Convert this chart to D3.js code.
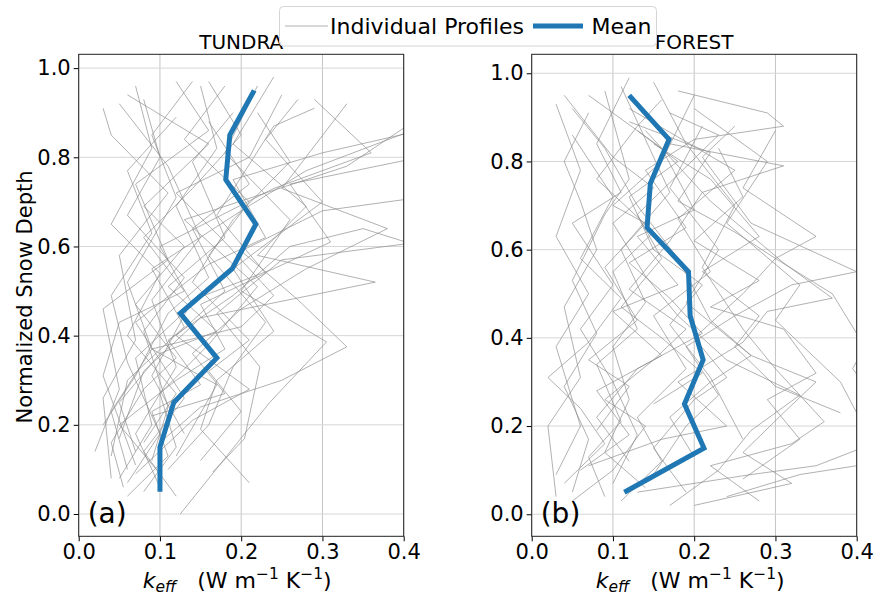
<!DOCTYPE html>
<html>
<head>
<meta charset="utf-8">
<script src="https://cdn.jsdelivr.net/npm/d3@7"></script>
<style>
  body { margin: 0; background: #fff; }
  svg { font-family: "DejaVu Sans", sans-serif; }
  .tick text { font-size: 21px; fill: #000; }
  .tick line { stroke: #000; }
</style>
</head>
<body>
<svg id="chart" width="875" height="597"></svg>
<script>
// mean profiles (normalized depth bins)
const meanDepth = [0.05, 0.15, 0.25, 0.35, 0.45, 0.55, 0.65, 0.75, 0.85, 0.95];
const tundraMean = [0.100, 0.100, 0.117, 0.170, 0.125, 0.189, 0.218, 0.181, 0.186, 0.216];
const forestMean = [0.114, 0.212, 0.188, 0.211, 0.195, 0.193, 0.142, 0.146, 0.169, 0.120];

const xTicks = [0.0, 0.1, 0.2, 0.3, 0.4];
const yTicks = [0.0, 0.2, 0.4, 0.6, 0.8, 1.0];

// individual profiles, [k_eff, normalized depth]
const tundraProfiles = [
  [[0.10,0.06],[0.07,0.18],[0.12,0.33],[0.09,0.48],[0.15,0.62],[0.11,0.78],[0.05,0.92]],
  [[0.125,0.00],[0.235,0.25],[0.305,0.386],[0.20,0.50],[0.26,0.66],[0.18,0.81],[0.22,0.96]],
  [[0.165,0.094],[0.204,0.169],[0.223,0.33],[0.17,0.45],[0.25,0.57],[0.42,0.61]],
  [[0.02,0.14],[0.05,0.28],[0.03,0.46],[0.11,0.57],[0.07,0.74],[0.16,0.86],[0.12,0.97]],
  [[0.04,0.13],[0.06,0.30],[0.13,0.42],[0.09,0.55],[0.20,0.68],[0.28,0.77],[0.41,0.86]],
  [[0.08,0.05],[0.12,0.15],[0.10,0.27],[0.16,0.38],[0.22,0.51],[0.13,0.66],[0.33,0.78],[0.42,0.89]],
  [[0.05,0.08],[0.09,0.20],[0.07,0.35],[0.14,0.47],[0.10,0.60],[0.24,0.73],[0.36,0.81],[0.29,0.93]],
  [[0.06,0.10],[0.04,0.23],[0.09,0.37],[0.06,0.52],[0.12,0.71],[0.09,0.85],[0.14,0.97]],
  [[0.21,0.07],[0.15,0.19],[0.17,0.30],[0.24,0.41],[0.19,0.55],[0.30,0.70],[0.23,0.84],[0.27,0.93]],
  [[0.07,0.09],[0.14,0.21],[0.21,0.28],[0.12,0.40],[0.18,0.50],[0.14,0.64],[0.21,0.74],[0.16,0.88]],
  [[0.05,0.17],[0.08,0.32],[0.15,0.44],[0.365,0.52],[0.22,0.58],[0.28,0.69],[0.19,0.83],[0.24,0.98]],
  [[0.09,0.12],[0.11,0.24],[0.08,0.41],[0.13,0.53],[0.06,0.67],[0.10,0.80],[0.08,0.93]],
  [[0.04,0.08],[0.03,0.26],[0.07,0.39],[0.05,0.58],[0.11,0.72],[0.04,0.85],[0.03,0.91]],
  [[0.10,0.16],[0.15,0.24],[0.25,0.30],[0.33,0.375],[0.27,0.48],[0.20,0.59],[0.30,0.68],[0.42,0.71]],
  [[0.06,0.07],[0.10,0.18],[0.06,0.34],[0.04,0.49],[0.09,0.63],[0.06,0.77],[0.12,0.89]],
  [[0.12,0.04],[0.08,0.14],[0.13,0.26],[0.07,0.43],[0.16,0.56],[0.23,0.62],[0.19,0.75],[0.30,0.81],[0.42,0.86]],
  [[0.03,0.20],[0.07,0.31],[0.11,0.45],[0.16,0.53],[0.12,0.69],[0.17,0.82],[0.15,0.96]],
  [[0.09,0.22],[0.18,0.27],[0.14,0.36],[0.20,0.46],[0.28,0.55],[0.38,0.64],[0.25,0.73],[0.33,0.92]],
  [[0.07,0.14],[0.05,0.25],[0.10,0.36],[0.17,0.41],[0.11,0.51],[0.18,0.62],[0.14,0.79],[0.19,0.90]],
  [[0.11,0.10],[0.16,0.20],[0.19,0.33],[0.23,0.43],[0.16,0.58],[0.21,0.70],[0.13,0.84],[0.18,0.96]],
  [[0.055,0.06],[0.04,0.16],[0.08,0.28],[0.12,0.35],[0.07,0.47],[0.13,0.60],[0.08,0.69],[0.16,0.83],[0.06,0.94]],
  [[0.13,0.18],[0.09,0.31],[0.14,0.48],[0.24,0.55],[0.31,0.61],[0.26,0.74],[0.42,0.80]],
  [[0.08,0.16],[0.12,0.27],[0.06,0.40],[0.10,0.54],[0.04,0.65],[0.09,0.82],[0.07,0.96]],
  [[0.15,0.12],[0.20,0.23],[0.16,0.32],[0.21,0.39],[0.14,0.52],[0.19,0.66],[0.26,0.79],[0.22,0.90]],
  [[0.10,0.09],[0.05,0.20],[0.12,0.30],[0.18,0.37],[0.15,0.47],[0.23,0.54],[0.17,0.67],[0.24,0.87],[0.29,0.91]],
  [[0.06,0.04],[0.11,0.13],[0.09,0.23],[0.15,0.29],[0.11,0.39],[0.19,0.49],[0.26,0.60],[0.35,0.64],[0.42,0.60]],
  [[0.07,0.11],[0.03,0.31],[0.05,0.43],[0.13,0.50],[0.08,0.62],[0.14,0.73],[0.20,0.85],[0.16,0.97]],
  [[0.12,0.13],[0.17,0.29],[0.09,0.37],[0.20,0.42],[0.24,0.49],[0.18,0.61],[0.12,0.72],[0.21,0.80],[0.25,0.94]]
];

const forestProfiles = [
  [[0.03,0.04],[0.02,0.20],[0.06,0.31],[0.04,0.47],[0.08,0.60],[0.06,0.71],[0.04,0.80],[0.07,0.91]],
  [[0.05,0.05],[0.07,0.17],[0.04,0.29],[0.08,0.41],[0.05,0.53],[0.09,0.68],[0.12,0.76],[0.09,0.96]],
  [[0.11,0.03],[0.16,0.12],[0.13,0.22],[0.19,0.33],[0.15,0.45],[0.22,0.55],[0.18,0.67],[0.25,0.78],[0.12,0.92]],
  [[0.14,0.06],[0.09,0.14],[0.12,0.26],[0.10,0.38],[0.14,0.48],[0.11,0.60],[0.17,0.73],[0.14,0.85],[0.11,0.97]],
  [[0.28,0.03],[0.22,0.11],[0.32,0.16],[0.36,0.21],[0.30,0.33],[0.26,0.42],[0.21,0.56],[0.25,0.70],[0.19,0.84],[0.15,0.98]],
  [[0.06,0.10],[0.12,0.18],[0.08,0.28],[0.16,0.36],[0.10,0.46],[0.18,0.52],[0.13,0.63],[0.20,0.69],[0.16,0.83],[0.07,0.95]],
  [[0.13,0.05],[0.27,0.09],[0.35,0.11],[0.42,0.16],[0.38,0.30],[0.30,0.44],[0.33,0.52],[0.24,0.66],[0.29,0.80],[0.20,0.92]],
  [[0.04,0.07],[0.09,0.16],[0.06,0.24],[0.02,0.31],[0.07,0.39],[0.11,0.49],[0.06,0.58],[0.10,0.72],[0.05,0.86]],
  [[0.20,0.02],[0.32,0.07],[0.26,0.14],[0.31,0.23],[0.35,0.30],[0.27,0.36],[0.19,0.48],[0.23,0.60],[0.17,0.74],[0.21,0.88]],
  [[0.09,0.04],[0.07,0.13],[0.11,0.21],[0.08,0.34],[0.13,0.42],[0.10,0.55],[0.15,0.64],[0.08,0.76],[0.13,0.88],[0.16,0.94]],
  [[0.07,0.11],[0.16,0.17],[0.24,0.20],[0.18,0.30],[0.26,0.39],[0.29,0.46],[0.37,0.49],[0.31,0.57],[0.22,0.71],[0.14,0.87]],
  [[0.15,0.09],[0.19,0.20],[0.23,0.27],[0.19,0.38],[0.25,0.45],[0.32,0.52],[0.40,0.55],[0.27,0.66],[0.21,0.81],[0.25,0.88]],
  [[0.05,0.03],[0.10,0.10],[0.14,0.20],[0.09,0.26],[0.15,0.35],[0.19,0.42],[0.12,0.51],[0.17,0.62],[0.21,0.73],[0.31,0.79],[0.17,0.84]],
  [[0.12,0.12],[0.08,0.22],[0.13,0.33],[0.21,0.41],[0.17,0.49],[0.12,0.57],[0.19,0.65],[0.14,0.78],[0.20,0.85],[0.31,0.88],[0.29,0.91],[0.18,0.96]],
  [[0.19,0.05],[0.15,0.15],[0.20,0.26],[0.24,0.31],[0.20,0.40],[0.26,0.50],[0.30,0.58],[0.25,0.64],[0.18,0.71],[0.22,0.82],[0.12,0.89]],
  [[0.26,0.08],[0.33,0.17],[0.29,0.26],[0.35,0.32],[0.31,0.42],[0.22,0.47],[0.28,0.53],[0.20,0.62],[0.26,0.72],[0.23,0.83]],
  [[0.03,0.09],[0.06,0.20],[0.03,0.38],[0.07,0.50],[0.03,0.63],[0.06,0.78],[0.03,0.93]],
  [[0.10,0.07],[0.13,0.18],[0.10,0.30],[0.06,0.42],[0.10,0.52],[0.05,0.66],[0.11,0.73],[0.08,0.84],[0.12,0.99]],
  [[0.17,0.02],[0.23,0.10],[0.27,0.19],[0.33,0.27],[0.24,0.35],[0.18,0.45],[0.14,0.54],[0.10,0.66],[0.15,0.74],[0.10,0.81],[0.04,0.95]],
  [[0.24,0.04],[0.33,0.09],[0.40,0.11],[0.43,0.18],[0.42,0.27],[0.395,0.33],[0.41,0.38],[0.37,0.50],[0.30,0.58],[0.35,0.63],[0.26,0.74],[0.30,0.87]],
  [[0.15,0.25],[0.21,0.32],[0.16,0.40],[0.11,0.47],[0.16,0.58],[0.13,0.68],[0.18,0.77],[0.23,0.86],[0.17,0.91]],
  [[0.08,0.19],[0.12,0.29],[0.07,0.35],[0.13,0.44],[0.09,0.56],[0.14,0.66],[0.10,0.70],[0.16,0.80],[0.20,0.95]],
  [[0.20,0.13],[0.17,0.22],[0.22,0.30],[0.27,0.36],[0.22,0.44],[0.18,0.58],[0.13,0.70],[0.09,0.83],[0.05,0.92]],
  [[0.26,0.17],[0.22,0.31],[0.17,0.43],[0.21,0.52],[0.15,0.60],[0.12,0.72],[0.18,0.80],[0.13,0.87]],
  [[0.38,0.23],[0.30,0.29],[0.25,0.38],[0.28,0.45],[0.21,0.55],[0.28,0.63],[0.22,0.76],[0.15,0.84]]
];

const svg = d3.select("#chart");
const blue = "#1f77b4";

function drawPanel(p) {
  const x = d3.scaleLinear().domain([0, 0.4]).range([p.left, p.right]);
  const y = d3.scaleLinear().domain(p.ylim).range([p.bottom, p.top]);
  const w = p.right - p.left, h = p.bottom - p.top;

  svg.append("clipPath").attr("id", "clip-" + p.id)
    .append("rect").attr("x", p.left).attr("y", p.top).attr("width", w).attr("height", h);

  // grid
  const grid = svg.append("g");
  grid.selectAll(".vg").data(xTicks).enter().append("line")
    .attr("x1", d => x(d)).attr("x2", d => x(d))
    .attr("y1", p.top).attr("y2", p.bottom)
    .attr("stroke", "#c4c4c4").attr("stroke-width", 1);
  grid.selectAll(".hg").data(yTicks).enter().append("line")
    .attr("x1", p.left).attr("x2", p.right)
    .attr("y1", d => y(d)).attr("y2", d => y(d))
    .attr("stroke", "#d6d6d6").attr("stroke-width", 1);

  const plot = svg.append("g").attr("clip-path", "url(#clip-" + p.id + ")");
  const line = d3.line().x(d => x(d[0])).y(d => y(d[1]));

  plot.selectAll(".prof").data(p.profiles).enter().append("path")
    .attr("d", line).attr("fill", "none")
    .attr("stroke", "#8a8a8a").attr("stroke-opacity", 0.75).attr("stroke-width", 0.9);

  const meanPts = meanDepth.map((d, i) => [p.mean[i], d]);
  plot.append("path").attr("d", line(meanPts)).attr("fill", "none")
    .attr("stroke", blue).attr("stroke-width", 5);

  // axes
  svg.append("g").attr("transform", "translate(0," + p.bottom + ")")
    .call(d3.axisBottom(x).tickValues(xTicks).tickFormat(d3.format(".1f")).tickSize(5).tickPadding(3))
    .call(g => g.select(".domain").remove());
  svg.append("g").attr("transform", "translate(" + p.left + ",0)")
    .call(d3.axisLeft(y).tickValues(yTicks).tickFormat(d3.format(".1f")).tickSize(5).tickPadding(3))
    .call(g => g.select(".domain").remove());
  svg.selectAll(".tick text").attr("font-family", "DejaVu Sans");

  svg.append("rect").attr("x", p.left).attr("y", p.top).attr("width", w).attr("height", h)
    .attr("fill", "none").attr("stroke", "#222").attr("stroke-width", 1);

  svg.append("text").attr("x", (p.left + p.right) / 2).attr("y", 49)
    .attr("text-anchor", "middle").attr("font-size", 20).text(p.title);

  svg.append("text").attr("x", p.left + 9).attr("y", 523)
    .attr("font-size", 28).text(p.tag);

  const xl = svg.append("text").attr("x", (p.left + p.right) / 2 - 4).attr("y", 588)
    .attr("text-anchor", "middle").attr("font-size", 22);
  xl.append("tspan").attr("font-style", "italic").text("k");
  xl.append("tspan").attr("font-style", "italic").attr("font-size", 15.5).attr("dy", 4).text("eff");
  xl.append("tspan").attr("dy", -4).text("\u00a0\u00a0\u00a0(W m");
  xl.append("tspan").attr("font-size", 15.5).attr("dy", -9).text("\u22121");
  xl.append("tspan").attr("dy", 9).text(" K");
  xl.append("tspan").attr("font-size", 15.5).attr("dy", -9).text("\u22121");
  xl.append("tspan").attr("dy", 9).text(")");
}

drawPanel({ id: "a", left: 78.7, right: 403.7, top: 54.3, bottom: 536.3, ylim: [-0.05, 1.031],
  profiles: tundraProfiles, mean: tundraMean, title: "TUNDRA", tag: "(a)" });
drawPanel({ id: "b", left: 531.7, right: 856.7, top: 54.3, bottom: 536.3, ylim: [-0.05, 1.043],
  profiles: forestProfiles, mean: forestMean, title: "FOREST", tag: "(b)" });

// y label
svg.append("text").attr("transform", "translate(32,297) rotate(-90)")
  .attr("text-anchor", "middle").attr("font-size", 21).text("Normalized Snow Depth");

// legend
const leg = svg.append("g");
leg.append("rect").attr("x", 279.5).attr("y", 6.5).attr("width", 377).attr("height", 39.5)
  .attr("rx", 4).attr("fill", "#fff").attr("fill-opacity", 0.8).attr("stroke", "#d5d5d5");
leg.append("line").attr("x1", 285).attr("x2", 328).attr("y1", 26).attr("y2", 26)
  .attr("stroke", "#8a8a8a").attr("stroke-opacity", 0.75).attr("stroke-width", 0.9);
leg.append("text").attr("x", 330).attr("y", 34).attr("font-size", 22).text("Individual Profiles");
leg.append("line").attr("x1", 533).attr("x2", 583).attr("y1", 26).attr("y2", 26)
  .attr("stroke", blue).attr("stroke-width", 5);
leg.append("text").attr("x", 591.5).attr("y", 34).attr("font-size", 22).text("Mean");
</script>
</body>
</html>
